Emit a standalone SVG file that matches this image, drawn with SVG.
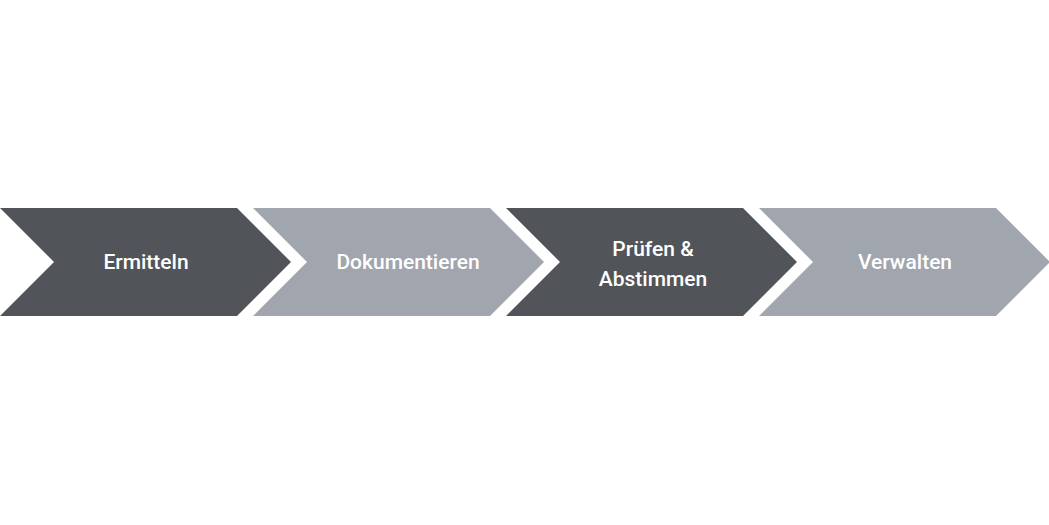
<svg xmlns="http://www.w3.org/2000/svg" width="1049" height="525" viewBox="0 0 1049 525">
<style>
.d{fill:#515559}.l{fill:#a1a5ae}
text{font-family:"Roboto","Liberation Sans",sans-serif;font-size:21px;font-weight:500;fill:#fff;text-anchor:middle}
</style>
<rect width="1049" height="525" fill="#fff"/>
<defs><path id="c" d="M0 208H237L291 262L237 316H0L54 262Z"/></defs>
<g id="n1"><use href="#c" class="d"/><text x="146" y="269">Ermitteln</text></g>
<g id="n2"><use href="#c" class="l" x="253"/><text x="408" y="269">Dokumentieren</text></g>
<g id="n3"><use href="#c" class="d" x="506"/><text x="653" y="256">Prüfen &amp;</text><text x="653" y="286">Abstimmen</text></g>
<g id="n4"><use href="#c" class="l" x="759"/><text x="905" y="269">Verwalten</text></g>
<g id="connectors"/>
</svg>
